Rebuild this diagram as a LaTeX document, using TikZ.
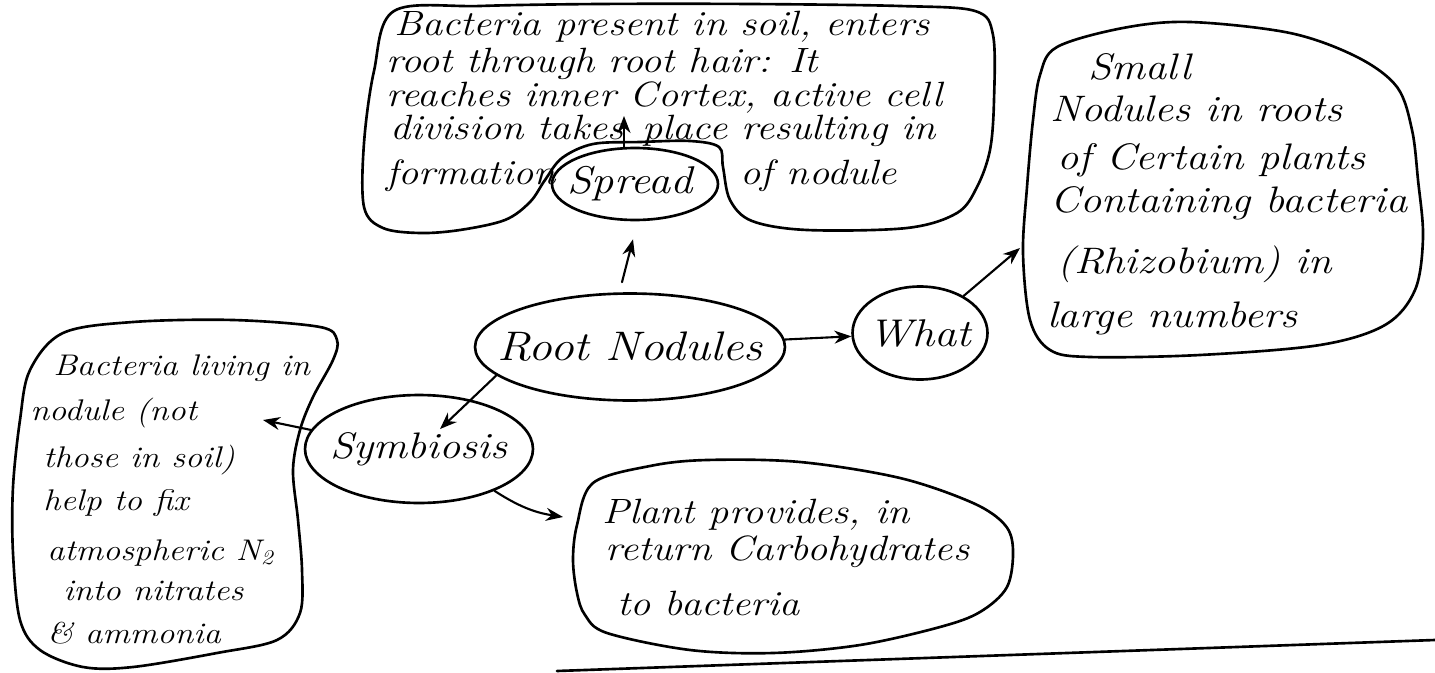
\documentclass[tikz,border=0pt]{standalone}
\usepackage{fontspec}
\newfontfamily\handfont{Latin Modern Roman}[FakeStretch=1.15]
\usetikzlibrary{arrows.meta,shapes.geometric}
\begin{document}
\begin{tikzpicture}[x=0.02cm,y=-0.02cm,
  ink/.style={line width=1.5pt,line join=round,line cap=round},
  oval/.style={ink,draw,ellipse,inner sep=0pt},
  link/.style={line width=1.2pt,line cap=round,-{Stealth[length=0.34cm,width=0.26cm]}},
  hand/.style={anchor=base west,inner sep=0pt},
  sized/.style={font=\handfont\itshape\fontsize{#1}{#1}\selectfont},
  toptxt/.style={hand,sized=20},
  righttxt/.style={hand,sized=21},
  lefttxt/.style={hand,sized=17},
  planttxt/.style={hand,sized=20},
  ovaltxt/.style={inner sep=0pt,sized=#1},
]
\useasboundingbox (0,0) rectangle (1435,672);

% ---- outlines of the text blobs ----
\draw[ink] plot[smooth cycle,tension=0.55] coordinates {
  (394,11) (480,6) (600,4) (750,4) (900,6) (975,11) (993,35) (994,100)
  (990,150) (977,187) (957,213) (907,228) (807,230) (752,221) (730,200)
  (723,167) (719,147) (690,141) (640,142) (593,144) (562,158) (545,180)
  (530,202) (505,220) (460,230) (420,233) (383,228) (364,207) (364,143)
  (374,71)};
\draw[ink] plot[smooth cycle,tension=0.55] coordinates {
  (1057,47) (1123,28) (1190,22) (1290,33) (1357,57) (1397,87) (1412,130)
  (1418,180) (1423,237) (1415,290) (1385,325) (1320,345) (1200,355)
  (1090,357) (1050,350) (1030,320) (1023,253) (1027,187) (1033,120)
  (1040,75)};
\draw[ink] plot[smooth cycle,tension=0.55] coordinates {
  (63,333) (133,322) (233,320) (320,327) (337,340) (333,360) (313,397)
  (300,430) (293,470) (298,520) (302,570) (300,613) (277,640) (217,653)
  (133,667) (83,667) (40,650) (20,620) (13,553) (13,487) (20,420) (30,370)};
\draw[ink] plot[smooth cycle,tension=0.55] coordinates {
  (593,483) (650,466) (707,460) (800,462) (900,478) (973,503) (1005,525)
  (1013,550) (1007,587) (980,612) (940,627) (860,645) (773,653) (690,650)
  (607,633) (585,615) (577,593) (573,560) (577,525)};

% ---- ovals ----
\node[oval,minimum width=6.2cm,minimum height=2.14cm] (rn) at (630,347) {};
\node[ovaltxt=23.5] (rnlabel) at (rn) {Root Nodules};
\node[oval,minimum width=2.7cm,minimum height=1.86cm] (what) at (920,333) {};
\node[ovaltxt=22] (whatlabel) at (what) {What};
\node[oval,minimum width=4.56cm,minimum height=2.16cm] (sym) at (419,449) {};
\node[ovaltxt=21] (symlabel) at (sym) {Symbiosis};
\node[oval,minimum width=3.32cm,minimum height=1.44cm] (spread) at (635,184) {};
\node[ovaltxt=22] (spreadlabel) at ([xshift=-0.1cm]spread) {Spread};

% ---- texts ----
\node[toptxt] (t1) at (394,36) {Bacteria present in soil, enters};
\node[toptxt] (t2) at (386,73) {root through root hair: It};
\node[toptxt] (t3) at (386,107) {reaches inner Cortex, active cell};
\node[toptxt] (t4a) at (390,140) {division takes};
\node[toptxt] (t4b) at (642,140) {place resulting in};
\node[toptxt] (t5a) at (386,185) {formation};
\node[toptxt] (t5b) at (740,185) {of nodule};

\node[righttxt] (r0) at (1088,80) {Small};
\node[righttxt] (r1) at (1050,122) {Nodules in roots};
\node[righttxt] (r2) at (1057,170) {of Certain plants};
\node[righttxt] (r3) at (1050,213) {Containing bacteria};
\node[righttxt] (r4) at (1057,273) {(Rhizobium) in};
\node[righttxt] (r5) at (1047,327) {large numbers};

\node[lefttxt] (l1) at (53,375) {Bacteria living in};
\node[lefttxt] (l2) at (30,420) {nodule (not};
\node[lefttxt] (l3) at (43,467) {those in soil)};
\node[lefttxt] (l4) at (43,510) {help to fix};
\node[lefttxt] (l5) at (47,560) {atmospheric N\textsubscript{2}};
\node[lefttxt] (l6) at (63,600) {into nitrates};
\node[lefttxt] (l7) at (47,643) {\& ammonia};

\node[planttxt] (p1) at (602,523) {Plant provides, in};
\node[planttxt] (p2) at (605,560) {return Carbohydrates};
\node[planttxt] (p3) at (617,615) {to bacteria};

% ---- arrow targets inside the blobs ----
\coordinate (spreadtip) at (624,116);
\coordinate (nodin) at (1020,248);
\coordinate (livin) at (263,420);
\coordinate (plantin) at (563,517);

% ---- connectors ----
\draw[link] ([xshift=-0.16cm,yshift=0.2cm]rn.north) -- ([xshift=-0.04cm,yshift=-0.36cm]spread.south);
\draw[link] (spreadtip |- spread.north) -- (spreadtip);
\draw[link] (rn) -- (what);
\draw[link] (what) -- (nodin);
\draw[link,shorten >=0.58cm] (rn.192) -- (sym.center);
\draw[link] (sym.170) -- (livin);
\draw[link] (sym.-29) to[bend right=12] (plantin);

% ---- rule under the page ----
\draw[ink] (557,671) -- (1435,640);
\end{tikzpicture}
\end{document}
